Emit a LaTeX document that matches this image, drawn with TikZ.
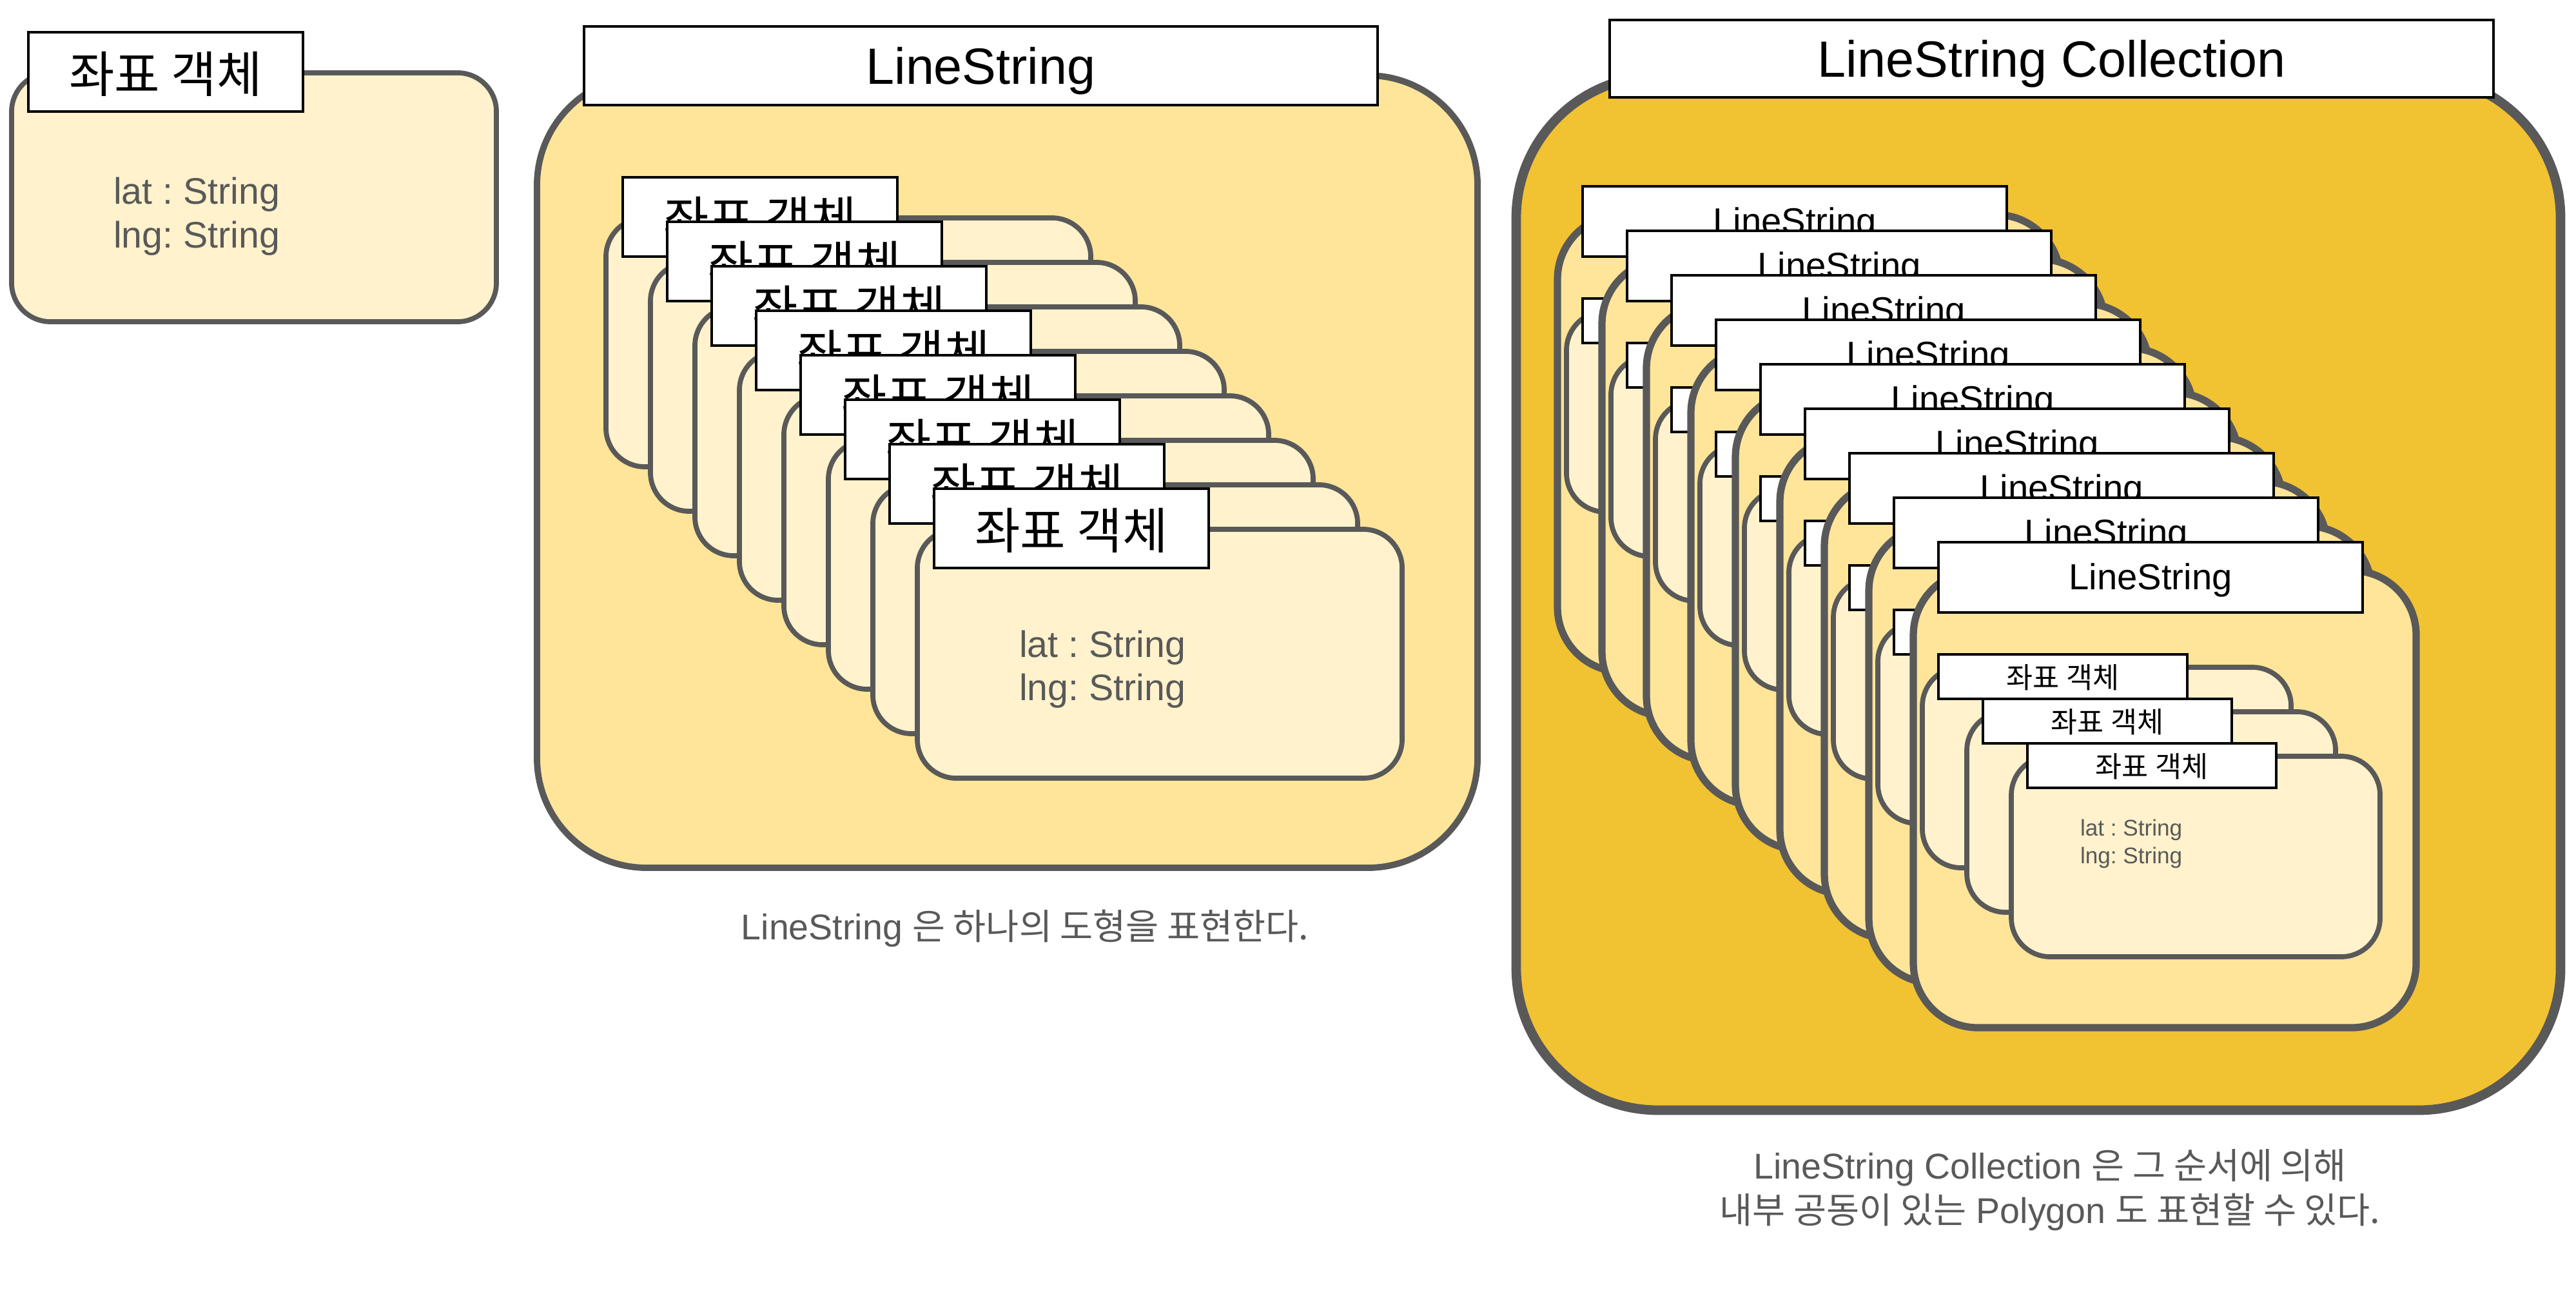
\documentclass[tikz,border=0pt]{standalone}
\usepackage{fontspec}
\setmainfont{Liberation Sans}
\newfontfamily\krfont{Noto Sans CJK KR}
\usetikzlibrary{positioning, calc}
\frenchspacing

\definecolor{creamfill}{HTML}{FFF2CC}
\definecolor{lightgold}{HTML}{FFE599}
\definecolor{deepgold}{HTML}{F1C232}
\definecolor{edgegray}{HTML}{595959}
\definecolor{notegray}{HTML}{595959}

\begin{document}
\begin{tikzpicture}[
        every node/.style={inner sep=0pt, outer sep=0pt},
        ptbox/.style={rectangle, draw=edgegray, line width=2.2pt, fill=creamfill, rounded corners=6mm, minimum width=7.52cm, minimum height=3.86cm, anchor=north west},
        ptlbl/.style={rectangle, draw=black, line width=1.1pt, fill=white, minimum width=4.26cm, minimum height=1.23cm, anchor=north west, text depth=0pt, font=\krfont\fontsize{21.8}{26}\selectfont},
        attr/.style={anchor=base west, text=notegray, font=\fontsize{16.3}{19}\selectfont},
        grpbox/.style={rectangle, draw=edgegray, line width=2.8pt, fill=lightgold, rounded corners=17mm, anchor=north west},
        headlbl/.style={rectangle, draw=black, line width=1.1pt, fill=white, anchor=north west, text depth=0pt, font=\fontsize{22.5}{27}\selectfont},
        collbox/.style={rectangle, draw=edgegray, line width=4.2pt, fill=deepgold, rounded corners=22mm, anchor=north west},
        lsbox/.style={rectangle, draw=edgegray, line width=3.2pt, fill=lightgold, rounded corners=10mm, minimum width=7.80cm, minimum height=7.09cm, anchor=north west},
        lslbl/.style={rectangle, draw=black, line width=1.1pt, fill=white, minimum width=6.58cm, minimum height=1.09cm, anchor=north west, text depth=1pt, font=\fontsize{16}{19}\selectfont},
        subbox/.style={rectangle, draw=edgegray, line width=2.2pt, fill=creamfill, rounded corners=6mm, minimum width=5.72cm, minimum height=3.11cm, anchor=north west},
        sublbl/.style={rectangle, draw=black, line width=1.1pt, fill=white, minimum width=3.86cm, minimum height=0.69cm, anchor=north west, text depth=0pt, font=\krfont\fontsize{12.7}{15}\selectfont},
        subattr/.style={anchor=base west, text=notegray, font=\fontsize{10}{12}\selectfont},
        note/.style={text=notegray, align=center, font=\fontsize{15.8}{19.6}\selectfont}
    ]
        \useasboundingbox (0,0) rectangle (39.96,-20.04);

        % Single coordinate object
        \node[ptbox] (pt0) at (0.18,-1.13) {};
        \node[ptlbl] (ptl0) at ([xshift=2.6mm, yshift=6.3mm]pt0.north west) {좌표 객체};
        \node[attr] (lat0) at ([xshift=15.8mm, yshift=-20.4mm]pt0.north west) {lat : String};
        \node[attr] (lng0) at ([xshift=15.8mm, yshift=-27.2mm]pt0.north west) {lng: String};

        % LineString: stack of coordinate objects
        \node[grpbox, minimum width=14.59cm, minimum height=12.29cm] (ls) at (8.33,-1.17) {};
        \node[headlbl, minimum width=12.31cm, minimum height=1.22cm] (lshead) at (9.06,-0.41) {LineString};
        \foreach \i in {1,...,8} {
            \node[ptbox] (pt\i) at ({9.40+0.69*(\i-1)},{-3.38-0.69*(\i-1)}) {};
            \node[ptlbl] (ptl\i) at ([xshift=2.6mm, yshift=6.3mm]pt\i.north west) {좌표 객체};
        }
        \node[attr] (lat8) at ([xshift=15.8mm, yshift=-19.8mm]pt8.north west) {lat : String};
        \node[attr] (lng8) at ([xshift=15.8mm, yshift=-26.5mm]pt8.north west) {lng: String};
        \node[note] (lscap) at (15.90,-14.40) {LineString {\krfont 은 하나의 도형을 표현한다.}};

        % LineString Collection: stack of LineStrings
        \node[collbox, minimum width=16.20cm, minimum height=16.04cm] (coll) at (23.52,-1.18) {};
        \node[headlbl, minimum width=13.71cm, minimum height=1.20cm] (collhead) at (24.97,-0.31) {LineString Collection};
        \foreach \j in {1,...,9} {
            \node[lsbox] (ls\j) at ({24.16+0.69*(\j-1)},{-3.33-0.69*(\j-1)}) {};
            \node[lslbl] (lsl\j) at ([xshift=3.9mm, yshift=4.4mm]ls\j.north west) {LineString};
            \foreach \k in {1,2,3} {
                \node[subbox] (sub\j\k) at ([xshift={1.4mm+6.9mm*(\k-1)}, yshift={-15mm-6.9mm*(\k-1)}]ls\j.north west) {};
                \node[sublbl] (subl\j\k) at ([xshift=2.5mm, yshift=2mm]sub\j\k.north west) {\ifnum\j=9 좌표 객체\fi};
            }
        }
        \node[subattr] (lat93) at ([xshift=10.7mm, yshift=-12.3mm]sub93.north west) {lat : String};
        \node[subattr] (lng93) at ([xshift=10.7mm, yshift=-16.6mm]sub93.north west) {lng: String};
        \node[note] (collcap) at (31.80,-18.46) {LineString Collection {\krfont 은 그 순서에 의해}\\{\krfont 내부 공동이 있는} Polygon {\krfont 도 표현할 수 있다.}};
    \end{tikzpicture}
\end{document}
